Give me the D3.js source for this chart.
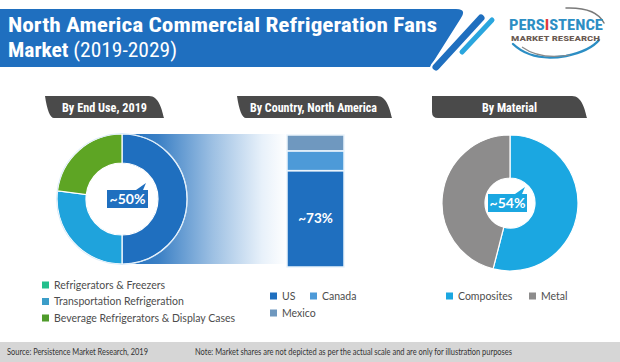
<!DOCTYPE html>
<html><head><meta charset="utf-8">
<script src="https://cdn.jsdelivr.net/npm/d3@7/dist/d3.min.js"></script>
<style>
html,body{margin:0;padding:0;background:#fff;}
svg{display:block;}
</style></head>
<body>
<svg id="chart" width="620" height="362"></svg>
<script>
// ---- data ----
const titleLine1 = "North America Commercial Refrigeration Fans";
const titleLine2a = "Market";
const titleLine2b = " (2019-2029)";
const panelTitles = ["By End Use, 2019", "By Country, North America", "By Material"];

const endUseCategories = ["Refrigerators & Freezers", "Transportation Refrigeration", "Beverage Refrigerators & Display Cases"];
const endUseValues = [50, 27, 23];
const endUseLabel = "~50%";

const countryCategories = ["US", "Canada", "Mexico"];
const countryValues = [73, 15, 12];
const countryLabel = "~73%";

const materialCategories = ["Composites", "Metal"];
const materialValues = [54, 46];
const materialLabel = "~54%";

const sourceText = "Source: Persistence Market Research, 2019";
const noteText = "Note: Market shares are not depicted as per the actual scale and are only for illustration purposes";

// ---- styles ----
const BLUE = "#1f6fbf";
const endUseColors = ["#1f6fbf", "#1fa3dc", "#5ea524"];
const endUseLegendColors = ["#22bf8c", "#3b9dc8", "#4f9b2b"];
const countryColors = ["#1f6fbf", "#4d9ad8", "#6f98bf"];
const materialColors = ["#1ba7e1", "#8d8c8c"];
const COND = '"Liberation Sans Narrow","Roboto Condensed","DejaVu Sans Condensed",Roboto,sans-serif';
const BODY = 'Lato,"Open Sans",sans-serif';

const svg = d3.select("#chart");
const defs = svg.append("defs");

// ---- banner ----
svg.append("path")
  .attr("d", "M0,9 L456,9 Q467,9 461,18 L430,67 L0,67 Z")
  .attr("fill", BLUE);
svg.append("line").attr("x1",481).attr("y1",18).attr("x2",436).attr("y2",67)
  .attr("stroke","#fff").attr("stroke-width",11).attr("stroke-linecap","round");
svg.append("line").attr("x1",481).attr("y1",18).attr("x2",436).attr("y2",67)
  .attr("stroke",BLUE).attr("stroke-width",7).attr("stroke-linecap","round");
svg.append("line").attr("x1",492).attr("y1",20).attr("x2",462).attr("y2",52)
  .attr("stroke","#2aa6de").attr("stroke-width",5).attr("stroke-linecap","round");

svg.append("text").attr("x",8).attr("y",32)
  .attr("font-family",COND).attr("font-weight","bold").attr("font-size",21)
  .attr("fill","#fff").attr("textLength",429).attr("lengthAdjust","spacingAndGlyphs")
  .text(titleLine1);
const t2 = svg.append("text").attr("x",8).attr("y",57)
  .attr("font-family",COND).attr("font-size",21).attr("fill","#fff")
  .attr("textLength",169).attr("lengthAdjust","spacingAndGlyphs");
t2.append("tspan").attr("font-weight","bold").text(titleLine2a);
t2.append("tspan").text(titleLine2b);

// ---- logo ----
const logo = svg.append("g");
logo.append("path").attr("d","M513,44 Q532,62 566,56 Q590,51 599,40")
  .attr("fill","none").attr("stroke","#2c8ec4").attr("stroke-width",2.4).attr("stroke-linecap","round");
logo.append("path").attr("d","M522,47 Q540,60 570,55")
  .attr("fill","none").attr("stroke","#8a8a8a").attr("stroke-width",1.2);
logo.append("path").attr("d","M566,8 Q596,7 604,23")
  .attr("fill","none").attr("stroke","#7a7a7a").attr("stroke-width",1.5).attr("stroke-linecap","round");
const lt = logo.append("text").attr("x",509).attr("y",30)
  .attr("font-family",COND).attr("font-weight","bold").attr("font-size",14)
  .attr("textLength",94).attr("lengthAdjust","spacingAndGlyphs").attr("fill","#2c8ec4");
lt.append("tspan").text("PERS");
lt.append("tspan").attr("fill","#e0393b").text("I");
lt.append("tspan").text("STENCE");
logo.append("text").attr("x",511).attr("y",41)
  .attr("font-family",COND).attr("font-weight","bold").attr("font-size",6.5)
  .attr("textLength",89).attr("lengthAdjust","spacingAndGlyphs").attr("fill","#6b5a52")
  .text("MARKET RESEARCH");

// ---- panel tabs ----
function tab(x0, x1, y0, y1, label, cx, tw, slantLeft) {
  const d = slantLeft
    ? `M${x0},${y0} L${x1-14},${y0} C${x1-4},${y0} ${x1-1},${y1-8} ${x1+1},${y1} L${x0+9},${y1} C${x0+5},${y1} ${x0+2},${y1-8} ${x0},${y0} Z`
    : `M${x0},${y0} L${x1-14},${y0} C${x1-4},${y0} ${x1-1},${y1-8} ${x1+1},${y1} L${x0+6},${y1} Q${x0},${y1} ${x0},${y1-6} Z`;
  svg.append("path").attr("d", d).attr("fill","#4a4a4a");
  svg.append("text").attr("x",cx - tw/2).attr("y",y1-6.5)
    .attr("font-family",COND).attr("font-weight","bold").attr("font-size",13)
    .attr("textLength",tw).attr("lengthAdjust","spacingAndGlyphs")
    .attr("fill","#fff").text(label);
}
tab(45, 163, 96, 118, panelTitles[0], 104.5, 85, true);
tab(237, 391, 96, 118, panelTitles[1], 313.5, 127, true);
tab(432, 586, 96, 118, panelTitles[2], 509.5, 55, false);

// ---- gradient band ----
const grad = defs.append("linearGradient").attr("id","band").attr("x1","0%").attr("x2","100%");
[[0,"#1f6fbf"],[0.22,"#3b80c5"],[0.55,"#9dc0e3"],[0.85,"#e8f1fa"],[1,"#ffffff"]]
  .forEach(([o,c]) => grad.append("stop").attr("offset",o).attr("stop-color",c));

const c1 = {x:122, y:199};
svg.append("rect").attr("x",c1.x).attr("y",134).attr("width",287-c1.x).attr("height",130)
  .attr("fill","url(#band)");

// ---- donut 1 ----
const pie = d3.pie().sort(null).value(d => d);
const arc1 = d3.arc().innerRadius(36).outerRadius(65);
const g1 = svg.append("g").attr("transform",`translate(${c1.x},${c1.y})`);
g1.append("circle").attr("r",36).attr("fill","#fff");
g1.selectAll("path").data(pie(endUseValues)).join("path")
  .attr("d",arc1).attr("fill",(d,i)=>endUseColors[i])
  .attr("stroke","#fff").attr("stroke-width",1.2);
g1.append("circle").attr("r",65.5).attr("fill","none").attr("stroke","#cfe6f7").attr("stroke-width",0.8);

function callout(cx, cy, w, h, color, label) {
  const g = svg.append("g");
  g.append("path")
    .attr("d",`M${cx+w/2-12},${cy-h/2} L${cx+w/2-2},${cy-h/2-7} L${cx+w/2-5},${cy-h/2} Z`)
    .attr("fill",color);
  g.append("rect").attr("x",cx-w/2).attr("y",cy-h/2).attr("width",w).attr("height",h).attr("fill",color);
  g.append("text").attr("x",cx).attr("y",cy+5).attr("text-anchor","middle")
    .attr("font-family",BODY).attr("font-weight","bold").attr("font-size",14)
    .attr("fill","#fff").text(label);
}
callout(127.5, 199, 41, 18, BLUE, endUseLabel);

// ---- stacked bar ----
const yBar = d3.scaleLinear().domain([0, d3.sum(countryValues)]).range([267, 135]);
let acc = 0;
const stacks = countryValues.map((v,i) => { const s = {i, y0: acc, y1: acc+v}; acc += v; return s; });
svg.append("g").selectAll("rect").data(stacks).join("rect")
  .attr("x",287).attr("width",57)
  .attr("y",d=>yBar(d.y1)).attr("height",d=>yBar(d.y0)-yBar(d.y1))
  .attr("fill",d=>countryColors[d.i]).attr("stroke","#eaf4fc").attr("stroke-width",1.5);
svg.append("text").attr("x",315.5).attr("y",(yBar(stacks[0].y0)+yBar(stacks[0].y1))/2+4.5)
  .attr("text-anchor","middle").attr("font-family",BODY).attr("font-weight","bold")
  .attr("font-size",13.5).attr("fill","#fff").text(countryLabel);

// ---- donut 2 ----
const c2 = {x:510, y:203};
const arc2 = d3.arc().innerRadius(25).outerRadius(68);
const g2 = svg.append("g").attr("transform",`translate(${c2.x},${c2.y})`);
g2.selectAll("path").data(pie(materialValues)).join("path")
  .attr("d",arc2).attr("fill",(d,i)=>materialColors[i])
  .attr("stroke","#fff").attr("stroke-width",1.2);
callout(507.5, 203, 39, 18, materialColors[0], materialLabel);

// ---- legends ----
function legendItem(x, y, color, label) {
  svg.append("rect").attr("x",x).attr("y",y-3.5).attr("width",7).attr("height",7).attr("fill",color);
  svg.append("text").attr("x",x+12).attr("y",y+3.8)
    .attr("font-family",BODY).attr("font-size",10.5).attr("fill","#4d4d4d").text(label);
}
const leg1Y = [285, 301.5, 318];
endUseCategories.forEach((c,i)=>legendItem(42, leg1Y[i], endUseLegendColors[i], c));
const countryLegPos = [[270,296],[310,296],[270,313]];
countryCategories.forEach((c,i)=>legendItem(countryLegPos[i][0], countryLegPos[i][1], countryColors[i], c));
const matLegPos = [[446,296],[529,296]];
materialCategories.forEach((c,i)=>legendItem(matLegPos[i][0], matLegPos[i][1], materialColors[i], c));

// ---- footer ----
svg.append("rect").attr("x",0).attr("y",342).attr("width",620).attr("height",20).attr("fill","#d6d6d6");
svg.append("text").attr("x",7).attr("y",355).attr("font-family",BODY).attr("font-size",8.5)
  .attr("fill","#333").attr("textLength",141).attr("lengthAdjust","spacingAndGlyphs").text(sourceText);
svg.append("text").attr("x",195).attr("y",355).attr("font-family",BODY).attr("font-size",8.5)
  .attr("fill","#333").attr("textLength",317).attr("lengthAdjust","spacingAndGlyphs").text(noteText);
</script>
</body></html>
